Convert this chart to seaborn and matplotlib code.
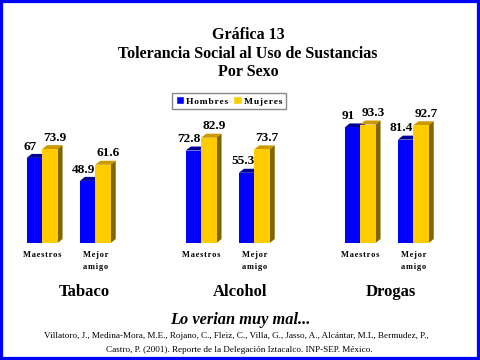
import matplotlib
matplotlib.use('Agg')
import matplotlib.pyplot as plt
import seaborn as sns
import pandas as pd
from matplotlib.patches import Polygon, Rectangle, Patch

# datos de la gráfica
sustancias = ['Tabaco', 'Alcohol', 'Drogas']
grupos = ['Maestros', 'Mejor\namigo']
hombres = [67, 48.9, 72.8, 55.3, 91, 81.4]
mujeres = [73.9, 61.6, 82.9, 73.7, 93.3, 92.7]

azul = '#0000FF'
amarillo = '#FFCC00'
caras = {azul: ('#000099', '#00007A'), amarillo: ('#CC9900', '#7F6600')}
desplaz = {azul: -0.075, amarillo: 0.095}   # corrimiento de las etiquetas
pos_titulo = [0.631, 0.605, 0.537]          # posicion x de Tabaco / Alcohol / Drogas

sns.set_theme(style='white')
plt.rcParams['font.family'] = ['Liberation Serif', 'DejaVu Serif']
plt.rcParams['text.color'] = 'black'
plt.rcParams['axes.labelcolor'] = 'black'
plt.rcParams['xtick.color'] = 'black'


def spaced(s):
    return '\n'.join('\u200a'.join(line) for line in s.split('\n'))


fig = plt.figure(figsize=(4.8, 3.6), dpi=100)

dx = 5 / 53     # profundidad 3D en unidades de datos
dy = 4 / 1.27

for i, sust in enumerate(sustancias):
    ax = fig.add_axes([(10.2 + 159 * i) / 480, 117 / 360, 117 / 480, 127 / 360])
    df = pd.DataFrame({
        'grupo': grupos * 2,
        'sexo': ['Hombres'] * 2 + ['Mujeres'] * 2,
        'valor': hombres[2 * i:2 * i + 2] + mujeres[2 * i:2 * i + 2],
    })
    sns.barplot(data=df, x='grupo', y='valor', hue='sexo', palette=[azul, amarillo],
                width=0.58, saturation=1, ax=ax, legend=False, zorder=2, linewidth=0)
    for cont, col in zip(ax.containers, [azul, amarillo]):
        top_c, side_c = caras[col]
        for p in cont:
            x0, w, h = p.get_x(), p.get_width(), p.get_height()
            ax.add_patch(Polygon([(x0, h), (x0 + w, h), (x0 + w + dx, h + dy), (x0 + dx, h + dy)],
                                 closed=True, facecolor=top_c, edgecolor='none', zorder=1))
            ax.add_patch(Polygon([(x0 + w, 0), (x0 + w + dx, dy), (x0 + w + dx, h + dy), (x0 + w, h)],
                                 closed=True, facecolor=side_c, edgecolor='none', zorder=1))
            ax.text(x0 + w / 2 + desplaz[col], h + dy + 1, f'{h:g}', ha='center', va='bottom',
                    fontsize=9.5, fontweight='bold', color='black', zorder=3)
    ax.set_xlim(-0.6, 1.6)
    ax.set_ylim(0, 100)
    ax.set_xticks([0, 1])
    ax.set_xticklabels([spaced(g) for g in grupos], fontsize=6, fontweight='bold',
                       va='top', linespacing=1.75)
    ax.tick_params(axis='x', length=0, pad=5.5)
    ax.set_yticks([])
    ax.set_ylabel('')
    ax.set_xlabel(sust, fontsize=12, fontweight='bold')
    ax.xaxis.set_label_coords(pos_titulo[i], -0.32)
    for s in ax.spines.values():
        s.set_visible(False)
    ax.patch.set_alpha(0)

# leyenda
handles = [Patch(facecolor=azul, label=spaced('Hombres')),
           Patch(facecolor=amarillo, label=spaced('Mujeres'))]
fig.legend(handles=handles, loc='center', bbox_to_anchor=(229 / 480, 1 - 101 / 360), ncol=2,
           prop={'weight': 'bold', 'size': 6.8}, handlelength=0.9, handleheight=0.9,
           handletextpad=0.25, columnspacing=0.5, borderpad=0.35, fancybox=False,
           edgecolor='#888888', framealpha=1)

# titulos
fig.text(248 / 480, 1 - 35 / 360, 'Gráfica 13', ha='center', va='center', fontsize=11.5, fontweight='bold')
fig.text(248 / 480, 1 - 54 / 360, 'Tolerancia Social al Uso de Sustancias', ha='center', va='center',
         fontsize=11.5, fontweight='bold')
fig.text(248 / 480, 1 - 72 / 360, 'Por Sexo', ha='center', va='center', fontsize=11.5, fontweight='bold')

fig.text(240 / 480, 1 - 320 / 360, 'Lo verian muy mal...', ha='center', va='center',
         fontsize=11.8, fontweight='bold', fontstyle='italic')
fig.text(236 / 480, 1 - 336 / 360,
         'Villatoro, J., Medina-Mora, M.E., Rojano, C., Fleiz, C., Villa, G., Jasso, A., Alcántar, M.L, Bermudez, P.,',
         ha='center', va='center', fontsize=6.55)
fig.text(239 / 480, 1 - 350 / 360,
         'Castro, P. (2001). Reporte de la Delegación Iztacalco. INP-SEP. México.',
         ha='center', va='center', fontsize=6.55)

# marco azul
fig.add_artist(Rectangle((0, 0), 1, 1, transform=fig.transFigure, fill=False,
                         edgecolor=azul, linewidth=4.5))

fig.savefig('out.png', dpi=100)
